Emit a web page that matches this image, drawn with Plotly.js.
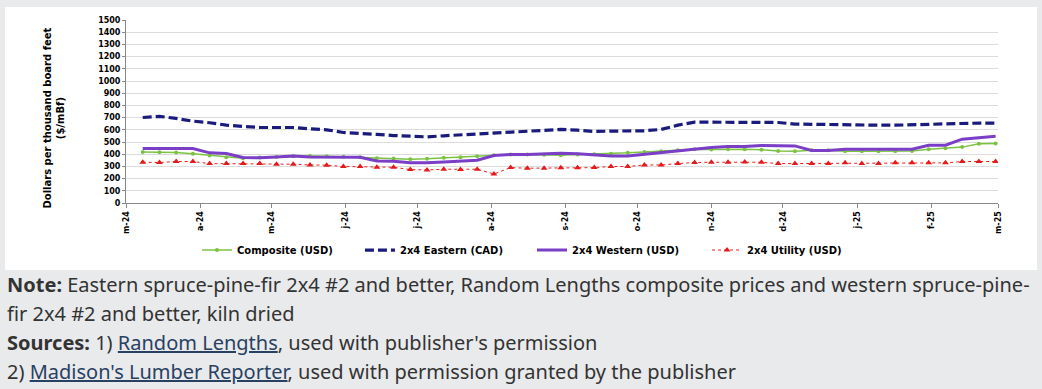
<!DOCTYPE html>
<html>
<head>
<meta charset="utf-8">
<script src="https://cdn.plot.ly/plotly-3.0.1.min.js"></script>
<style>
  html, body { margin: 0; padding: 0; background: #e9eaeb; width: 1042px; height: 389px; overflow: hidden; }
  #panel { position: absolute; left: 5px; top: 7px; width: 1032px; height: 263px; background: #ffffff; }
  #chart { width: 1032px; height: 263px; }
  #notes { position: absolute; left: 7px; top: 270px; width: 1035px; font-family: "Noto Sans", "Open Sans", sans-serif; font-size: 20px; line-height: 29px; color: #333333; white-space: nowrap; }
  #notes a { color: #284162; text-decoration: underline; }
</style>
</head>
<body>
<div id="panel"><div id="chart"></div></div>
<div id="notes">
  <b>Note:</b> Eastern spruce-pine-fir 2x4 #2 and better, Random Lengths composite prices and western spruce-pine-<br>fir 2x4 #2 and better, kiln dried<br>
  <b>Sources:</b> 1) <a href="#">Random Lengths</a>, used with publisher's permission<br>
  2) <a href="#">Madison's Lumber Reporter</a>, used with permission granted by the publisher
</div>
<script>
const weeks = [
  '2024-03-08','2024-03-15','2024-03-22','2024-03-29',
  '2024-04-05','2024-04-12','2024-04-19','2024-04-26',
  '2024-05-03','2024-05-10','2024-05-17','2024-05-24','2024-05-31',
  '2024-06-07','2024-06-14','2024-06-21','2024-06-28',
  '2024-07-05','2024-07-12','2024-07-19','2024-07-26',
  '2024-08-02','2024-08-09','2024-08-16','2024-08-23','2024-08-30',
  '2024-09-06','2024-09-13','2024-09-20','2024-09-27',
  '2024-10-04','2024-10-11','2024-10-18','2024-10-25',
  '2024-11-01','2024-11-08','2024-11-15','2024-11-22','2024-11-29',
  '2024-12-06','2024-12-13','2024-12-20','2024-12-27',
  '2025-01-03','2025-01-10','2025-01-17','2025-01-24','2025-01-31',
  '2025-02-07','2025-02-14','2025-02-21','2025-02-28'
];

const composite = [419,416,414,403,389,375,367,373,378,384,386,384,380,375,367,364,359,
  362,370,375,384,392,397,397,395,392,397,400,403,411,419,425,433,441,438,441,441,436,
  427,425,433,433,425,425,425,425,427,441,449,458,485,488];

const eastern = [701,710,693,671,658,638,627,619,619,619,608,600,578,573,562,553,545,
  542,551,559,564,573,581,589,597,603,597,586,589,592,592,603,638,663,663,666,666,663,
  660,647,644,644,644,638,638,638,638,644,649,655,655,655];

const western = [447,447,447,447,411,405,373,370,378,386,378,378,378,375,345,342,329,
  329,337,345,351,389,397,397,403,408,403,392,386,386,400,408,425,441,455,463,463,471,
  468,468,430,430,441,441,441,441,441,474,474,523,534,548];

const utility = [334,332,340,340,323,323,323,323,318,318,312,310,299,299,293,293,274,
  271,277,274,277,238,290,285,285,288,288,290,299,299,312,312,323,332,334,334,337,334,
  323,323,323,323,329,323,323,329,329,329,329,340,340,340];

const seriesNames = ['Composite (USD)', '2x4 Eastern (CAD)', '2x4 Western (USD)', '2x4 Utility (USD)'];

const monthTicks = ['2024-03-01','2024-04-01','2024-05-01','2024-06-01','2024-07-01','2024-08-01',
  '2024-09-01','2024-10-01','2024-11-01','2024-12-01','2025-01-01','2025-02-01','2025-03-01'];
const monthLabels = ['m-24','a-24','m-24','j-24','j-24','a-24','s-24','o-24','n-24','d-24','j-25','f-25','m-25'];

const yTicks = [0,100,200,300,400,500,600,700,800,900,1000,1100,1200,1300,1400,1500];

const yTitle = 'Dollars per thousand board feet<br>($/mBf)';

const boldFont = (size) => ({ family: 'DejaVu Sans, Verdana, sans-serif', size: size, color: '#000000', weight: 'bold' });

const traces = [
  { x: weeks, y: composite, name: seriesNames[0], type: 'scatter', mode: 'lines+markers', legend: 'legend',
    line: { color: '#7cc242', width: 1.5 }, marker: { color: '#7cc242', size: 4, symbol: 'circle' } },
  { x: weeks, y: eastern, name: seriesNames[1], type: 'scatter', mode: 'lines', legend: 'legend2',
    line: { color: '#1b1b7d', width: 3.2, dash: '9px,4px' } },
  { x: weeks, y: western, name: seriesNames[2], type: 'scatter', mode: 'lines', legend: 'legend3',
    line: { color: '#7a3fc6', width: 3 } },
  { x: weeks, y: utility, name: seriesNames[3], type: 'scatter', mode: 'lines+markers', legend: 'legend4',
    line: { color: '#ee1c1c', width: 1, dash: 'dot' }, marker: { color: '#e31a1a', size: 6, symbol: 'triangle-up' } }
];

const legendBase = (x) => ({ orientation: 'h', x: x, xanchor: 'left', y: -0.257, yanchor: 'middle',
  font: boldFont(10), itemwidth: 30, bgcolor: 'rgba(0,0,0,0)' });

const layout = {
  width: 1032, height: 263,
  margin: { l: 121, r: 39, t: 13, b: 67, autoexpand: false },
  paper_bgcolor: '#ffffff', plot_bgcolor: '#ffffff',
  showlegend: true,
  legend: legendBase(0.0814),
  legend2: legendBase(0.2683),
  legend3: legendBase(0.4656),
  legend4: legendBase(0.6663),
  xaxis: {
    type: 'date', range: ['2024-03-01', '2025-03-01'],
    tickmode: 'array', tickvals: monthTicks, ticktext: monthLabels, tickangle: -90,
    tickfont: boldFont(8), ticks: 'outside', ticklen: 4, tickcolor: '#888888',
    showline: true, linecolor: '#888888', linewidth: 1, showgrid: false, zeroline: false
  },
  yaxis: {
    range: [0, 1500], tickmode: 'array', tickvals: yTicks, ticktext: yTicks.map(String),
    tickfont: boldFont(8), ticks: 'outside', ticklen: 3, tickcolor: '#888888',
    showline: true, linecolor: '#888888', linewidth: 1,
    showgrid: true, gridcolor: '#dcdcdc', gridwidth: 1, zeroline: false
  },
  annotations: [{
    text: yTitle, xref: 'paper', yref: 'paper', x: -0.0831, y: 0.4645,
    xanchor: 'center', yanchor: 'middle', textangle: -90, showarrow: false,
    align: 'center', font: boldFont(10)
  }],
  font: { family: 'DejaVu Sans, Verdana, sans-serif' }
};

Plotly.newPlot('chart', traces, layout, { staticPlot: true, displayModeBar: false });
</script>
</body>
</html>
